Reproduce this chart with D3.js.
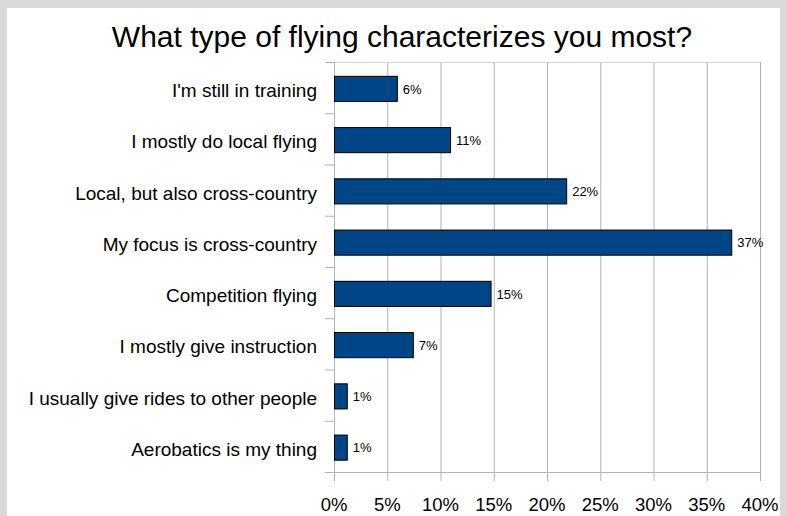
<!DOCTYPE html>
<html><head><meta charset="utf-8">
<script src="https://cdn.jsdelivr.net/npm/d3@7"></script>
<style>html,body{margin:0;padding:0;background:#d9d9d9;}svg{display:block;}</style>
</head><body>
<script>
const categories = ["I'm still in training","I mostly do local flying","Local, but also cross-country","My focus is cross-country","Competition flying","I mostly give instruction","I usually give rides to other people","Aerobatics is my thing"];
const values = [5.9, 10.9, 21.8, 37.3, 14.7, 7.4, 1.2, 1.2];
const valueLabels = ["6%","11%","22%","37%","15%","7%","1%","1%"];
const xTicks = [0,5,10,15,20,25,30,35,40];
const title = "What type of flying characterizes you most?";

(function(){
const W = 787, H = 516;
const svg = d3.select("body").append("svg").attr("width", W).attr("height", H);
svg.append("rect").attr("x",0).attr("y",0).attr("width",W).attr("height",H).attr("fill","#d9d9d9");
svg.append("rect").attr("x",7).attr("y",8).attr("width",773).attr("height",H-8).attr("fill","#ffffff");

const font = "'Liberation Sans', Arial, sans-serif";
const pL = 334, pR = 760, pT = 62, pB = 472;
const x = d3.scaleLinear().domain([0,40]).range([pL,pR]);
const y = d3.scaleBand().domain(categories).range([pT,pB]).paddingInner(0.5).paddingOuter(0.25);

svg.append("text").attr("x",402).attr("y",47).attr("text-anchor","middle")
  .attr("font-family",font).attr("font-size",30).attr("fill","#000").text(title);

// gridlines
svg.append("g").selectAll("line").data(xTicks).join("line")
  .attr("x1",d=>x(d)+0.5).attr("x2",d=>x(d)+0.5).attr("y1",pT).attr("y2",pB+9)
  .attr("stroke","#b3b3b3").attr("stroke-width",1);
// top line
svg.append("line").attr("x1",pL-9).attr("x2",pR).attr("y1",pT+0.5).attr("y2",pT+0.5)
  .attr("stroke","#cfcfcf");
// bottom axis
svg.append("line").attr("x1",pL-9).attr("x2",pR+1).attr("y1",pB+0.5).attr("y2",pB+0.5)
  .attr("stroke","#b3b3b3");
// y ticks at band boundaries
const step = (pB-pT)/categories.length;
svg.append("g").selectAll("line").data(d3.range(categories.length+1)).join("line")
  .attr("x1",pL-9).attr("x2",pL).attr("y1",i=>pT+i*step+0.5).attr("y2",i=>pT+i*step+0.5)
  .attr("stroke","#b3b3b3");
svg.append("line").attr("x1",pL+0.5).attr("x2",pL+0.5).attr("y1",pT).attr("y2",pB+9).attr("stroke","#b3b3b3");

// bars
svg.append("g").selectAll("rect").data(values).join("rect")
  .attr("x",x(0)+0.5).attr("y",(d,i)=>y(categories[i])+1.5)
  .attr("width",d=>x(d)-x(0)).attr("height",y.bandwidth()-0.5)
  .attr("fill","#004586").attr("stroke","#000").attr("stroke-width",1);

// value labels
svg.append("g").selectAll("text").data(values).join("text")
  .attr("x",d=>x(d)+6).attr("y",(d,i)=>y(categories[i])+y.bandwidth()/2+6)
  .attr("font-family",font).attr("font-size",13).attr("fill","#000")
  .text((d,i)=>valueLabels[i]);

// category labels
svg.append("g").selectAll("text").data(categories).join("text")
  .attr("x",317).attr("y",d=>y(d)+y.bandwidth()/2+9.5).attr("text-anchor","end")
  .attr("font-family",font).attr("font-size",19).attr("fill","#000").text(d=>d);

// x tick labels
svg.append("g").selectAll("text").data(xTicks).join("text")
  .attr("x",d=>x(d)).attr("y",511).attr("text-anchor","middle")
  .attr("font-family",font).attr("font-size",18.5).attr("fill","#000").text(d=>d+"%");
})();
</script>
</body></html>
